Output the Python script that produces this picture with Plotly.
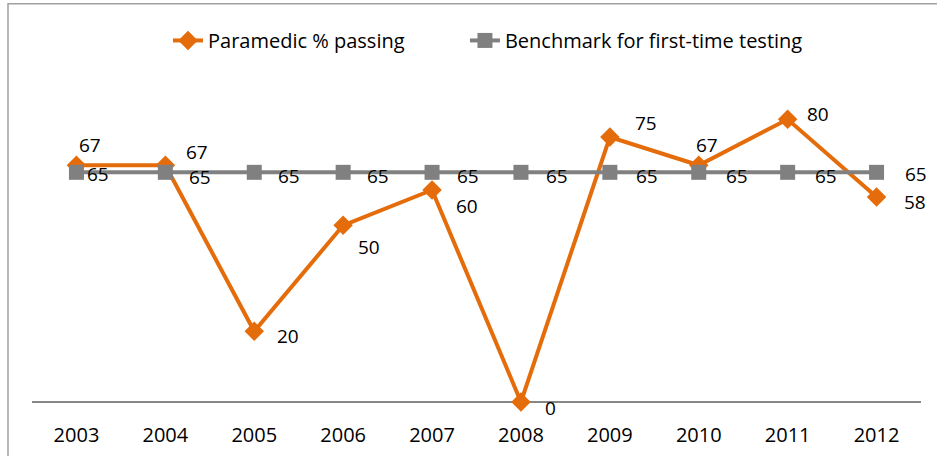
import plotly.graph_objects as go

years = ["2003", "2004", "2005", "2006", "2007", "2008", "2009", "2010", "2011", "2012"]
paramedic = [67, 67, 20, 50, 60, 0, 75, 67, 80, 58]
benchmark = [65, 65, 65, 65, 65, 65, 65, 65, 65, 65]

# label offsets (pixels) for data labels
para_shift = [(14, 20), (32, 13), (34, -5), (26, -22), (35, -16), (30, -6), (36, 14), (8, 20), (30, 5), (38, -5)]
bench_shift = [(22, -2), (35, -5), (35, -4), (35, -4), (36, -4), (36, -4), (37, -4), (38, -4), (38, -4), (39, -2)]

ORANGE = "#E46C0A"
GRAY = "#808080"
FONT = "Open Sans"
FS = 20
LFS = 19

fig = go.Figure()
fig.add_trace(go.Scatter(
    x=years, y=paramedic, name="Paramedic % passing", mode="lines+markers",
    line=dict(color=ORANGE, width=4), marker=dict(symbol="diamond", size=15, color=ORANGE),
    cliponaxis=False, legend="legend",
))
fig.add_trace(go.Scatter(
    x=years, y=benchmark, name="Benchmark for first-time testing", mode="lines+markers",
    line=dict(color=GRAY, width=4), marker=dict(symbol="square", size=15, color=GRAY),
    cliponaxis=False, legend="legend2",
))

anns = []
for i, v in enumerate(paramedic):
    dx, dy = para_shift[i]
    anns.append(dict(x=i, y=v, xref="x", yref="y", text=str(v), showarrow=False,
                     xshift=dx, yshift=dy, font=dict(family=FONT, size=LFS, color="#000")))
for i, v in enumerate(benchmark):
    dx, dy = bench_shift[i]
    anns.append(dict(x=i, y=v, xref="x", yref="y", text=str(v), showarrow=False,
                     xshift=dx, yshift=dy, font=dict(family=FONT, size=LFS, color="#000")))

leg_common = dict(orientation="h", xanchor="left", y=1.137, yanchor="middle",
                  font=dict(family=FONT, size=FS), bgcolor="rgba(0,0,0,0)")

fig.update_layout(
    width=937, height=456,
    margin=dict(l=32, r=16, t=84, b=54, autoexpand=False),
    paper_bgcolor="white", plot_bgcolor="white",
    font=dict(family=FONT, size=FS, color="#000"),
    showlegend=True,
    legend=dict(x=0.153, **leg_common),
    legend2=dict(x=0.487, **leg_common),
    xaxis=dict(type="category", range=[-0.5, 9.5], showgrid=False, zeroline=False,
               showline=False, ticks="outside", ticklen=15, tickcolor="rgba(0,0,0,0)",
               tickfont=dict(family=FONT, size=FS), automargin=False),
    yaxis=dict(range=[0, 90], showgrid=False, zeroline=True, zerolinecolor="#868686",
               zerolinewidth=1.5, showticklabels=False, showline=False, automargin=False),
    annotations=anns,
    shapes=[dict(type="rect", xref="paper", yref="paper", x0=-0.027, x1=1.2, y0=-0.5, y1=1.2527,
                 line=dict(color="#A0A0A0", width=1.5), fillcolor="rgba(0,0,0,0)", layer="below")],
)

fig.write_html("out.html", config={"displayModeBar": False},
               post_script="document.body.style.margin='0';")
